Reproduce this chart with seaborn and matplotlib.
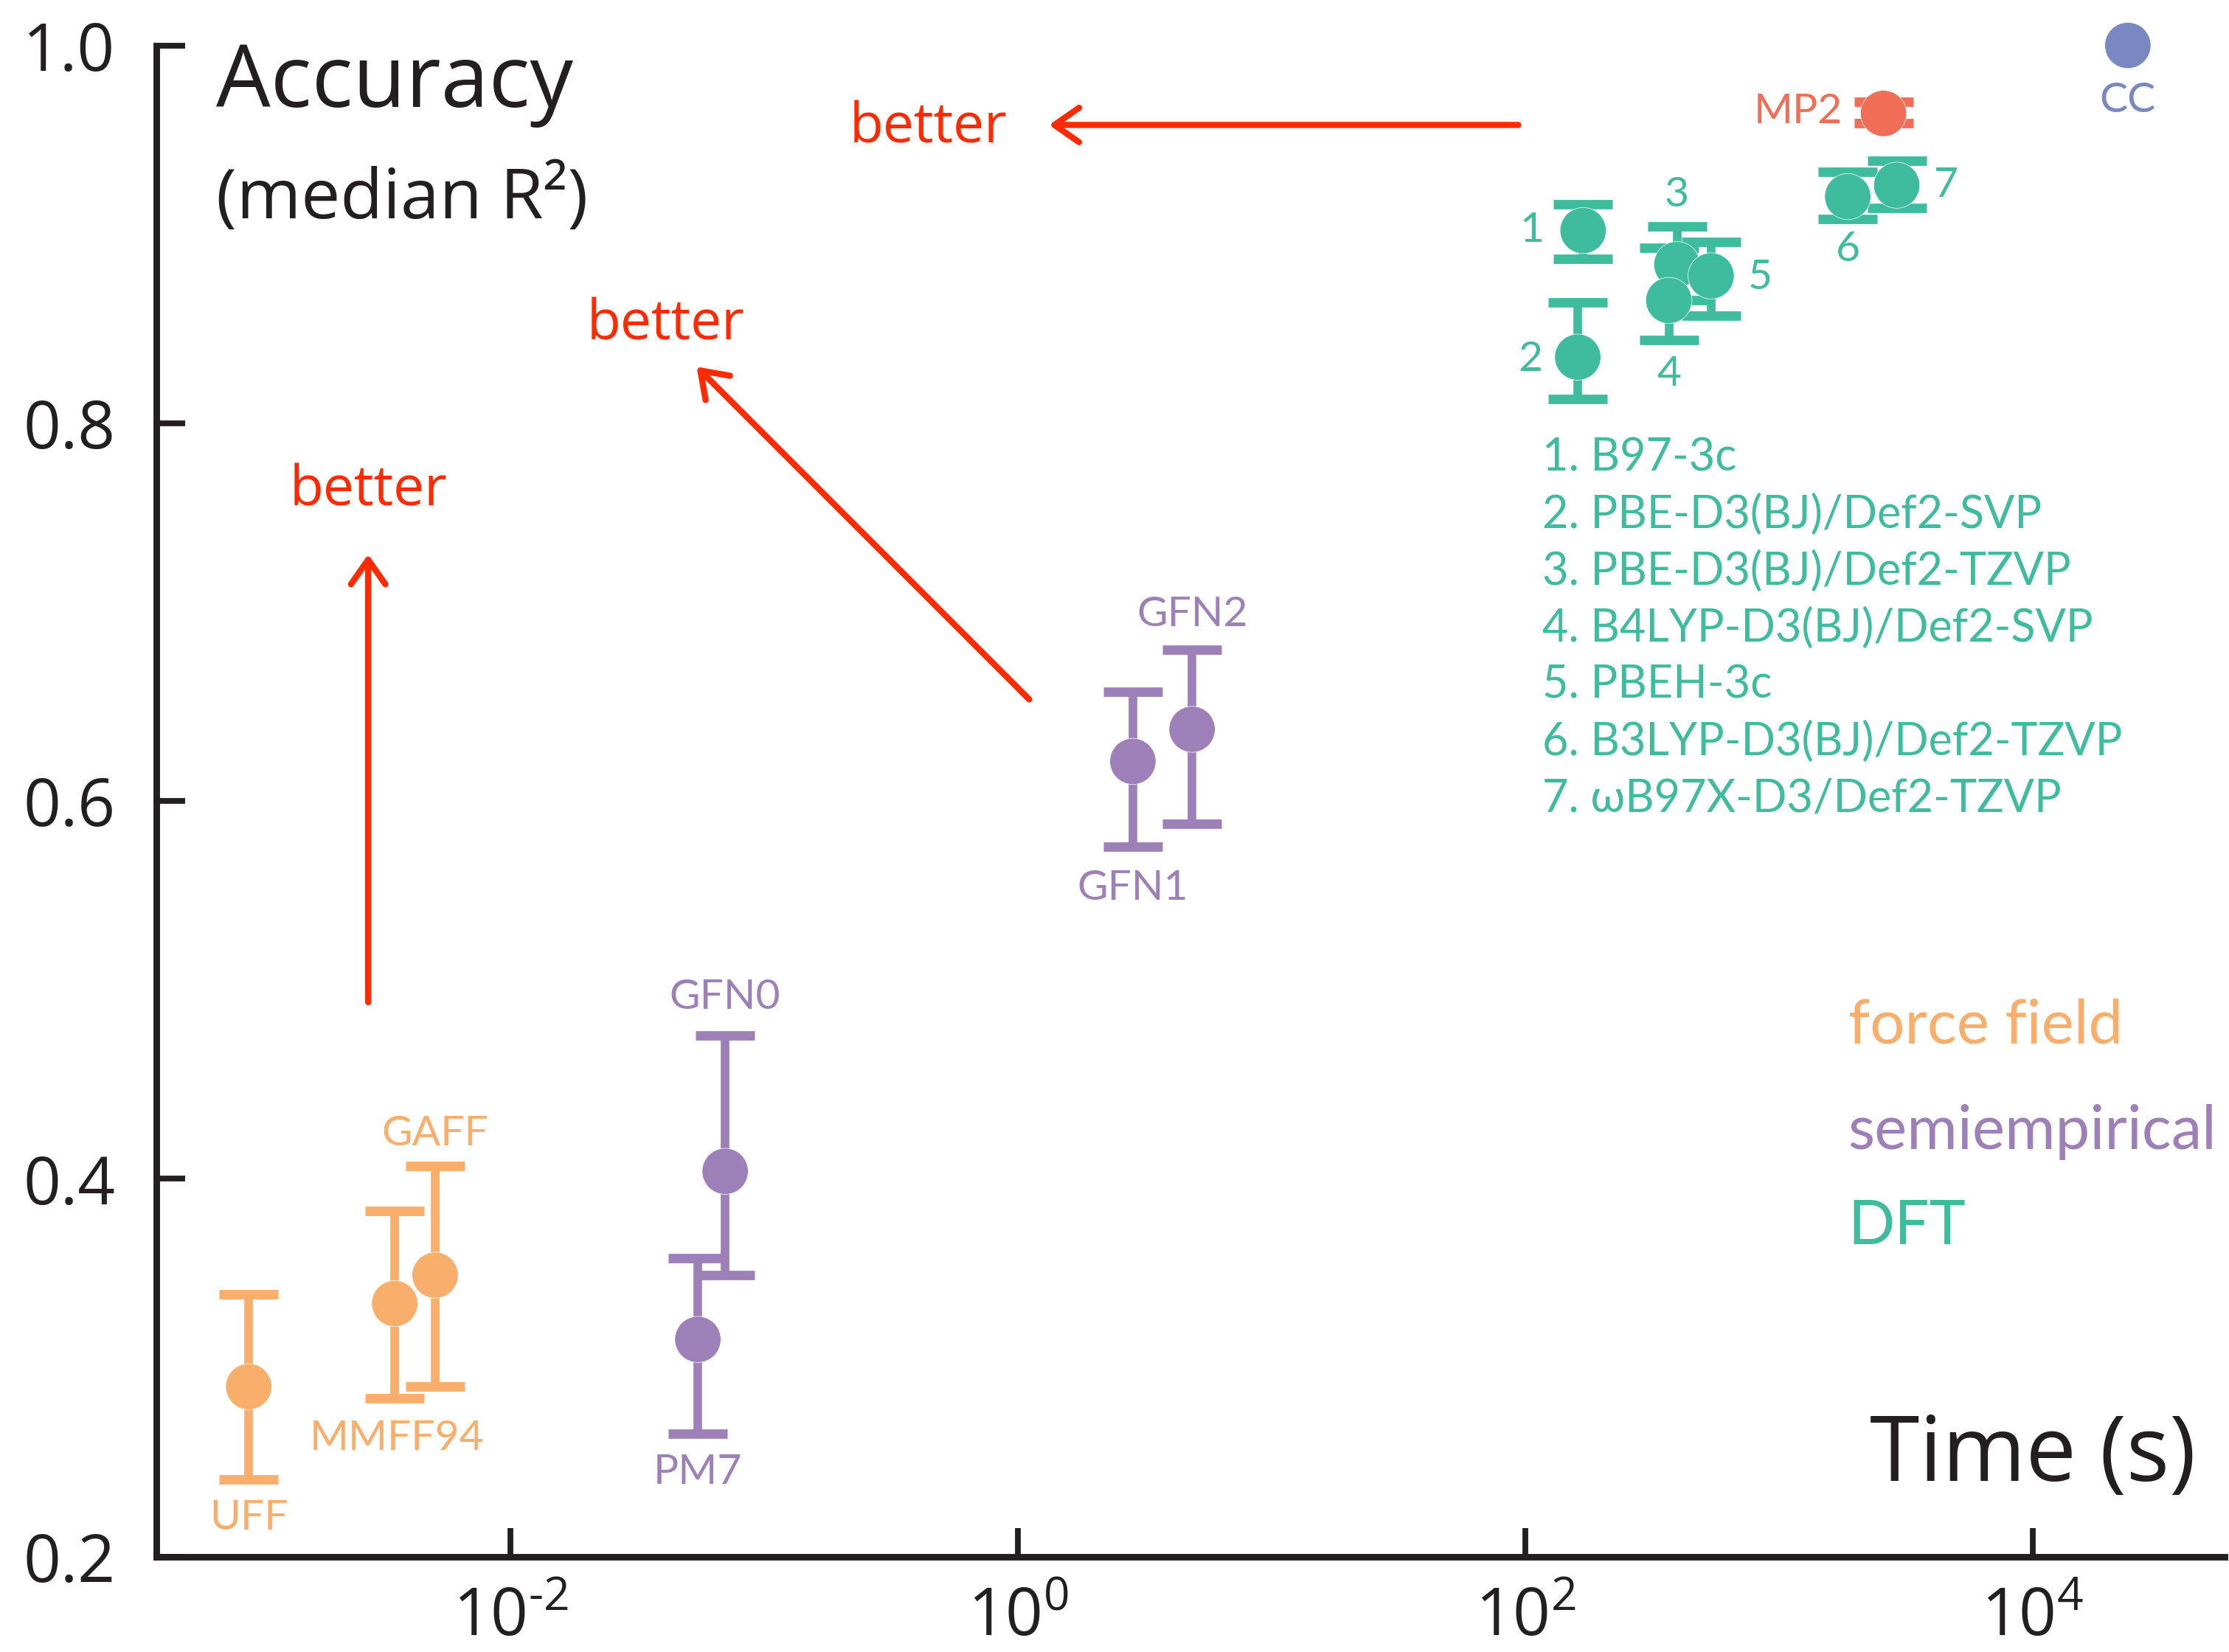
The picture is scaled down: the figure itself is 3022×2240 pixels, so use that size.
import numpy as np
import pandas as pd
import matplotlib
matplotlib.use("Agg")
import matplotlib.pyplot as plt
import seaborn as sns
from matplotlib.ticker import NullLocator, FixedLocator, FixedFormatter

# ---------------- data ----------------
methods = ["UFF", "MMFF94", "GAFF", "PM7", "GFN0", "GFN1", "GFN2",
           "1", "2", "3", "4", "5", "6", "7", "MP2", "CC"]
groups = ["force field"] * 3 + ["semiempirical"] * 4 + ["DFT"] * 7 + ["MP2", "CC"]
time_s = [9.3e-4, 3.5e-3, 5.05e-3, 0.0548, 0.0702, 2.84, 4.86,
          169, 161, 396, 368, 540, 1866, 2911, 2581, 23700]
accuracy = [0.290, 0.334, 0.349, 0.315, 0.404, 0.621, 0.638,
            0.902, 0.835, 0.884, 0.865, 0.878, 0.920, 0.926, 0.964, 1.000]
err_low = [0.241, 0.284, 0.290, 0.265, 0.349, 0.576, 0.588,
           0.887, 0.813, 0.865, 0.844, 0.857, 0.908, 0.914, 0.959, np.nan]
err_high = [0.339, 0.383, 0.407, 0.358, 0.476, 0.658, 0.680,
            0.916, 0.864, 0.904, 0.893, 0.896, 0.933, 0.939, 0.970, np.nan]

dft_names = ["1. B97-3c", "2. PBE-D3(BJ)/Def2-SVP", "3. PBE-D3(BJ)/Def2-TZVP",
             "4. B4LYP-D3(BJ)/Def2-SVP", "5. PBEH-3c",
             "6. B3LYP-D3(BJ)/Def2-TZVP", "7. ωB97X-D3/Def2-TZVP"]
category_names = ["force field", "semiempirical", "DFT"]

x_ticks = [1e-2, 1e0, 1e2, 1e4]
x_ticklabels = [r"$10^{\text{-}2}$", "$10^{0}$", "$10^{2}$", "$10^{4}$"]
y_ticks = [0.2, 0.4, 0.6, 0.8, 1.0]
y_ticklabels = ["0.2", "0.4", "0.6", "0.8", "1.0"]

palette = {"force field": "#F9AE6B", "semiempirical": "#9E80B8", "DFT": "#3FBC9D",
           "MP2": "#F06E55", "CC": "#7A88C2"}
arrow_red = "#FF2A00"

# label offsets (points) relative to each point and alignment
label_offsets = {
    "UFF": (0, -64, "center"), "MMFF94": (1, -66, "center"), "GAFF": (0, 69, "center"),
    "PM7": (0, -65, "center"), "GFN0": (0, 85, "center"), "GFN1": (0, -62, "center"),
    "GFN2": (0, 56, "center"),
    "1": (-25, 0, "center"), "2": (-23, -1, "center"), "3": (0, 34, "center"),
    "4": (0, -36, "center"), "5": (24, -1, "center"), "6": (0, -26, "center"),
    "7": (24, 0, "center"), "MP2": (-20, 1, "right"), "CC": (0, -27, "center"),
}

df = pd.DataFrame({"method": methods, "group": groups, "time": time_s,
                   "acc": accuracy, "lo": err_low, "hi": err_high})

# ---------------- style ----------------
sns.set_theme(style="ticks")
plt.rcParams["font.family"] = ["Open Sans", "DejaVu Sans"]
plt.rcParams["mathtext.fontset"] = "custom"
plt.rcParams["mathtext.rm"] = "Open Sans"
plt.rcParams["mathtext.it"] = "Open Sans"
plt.rcParams["mathtext.default"] = "regular"
plt.rcParams["axes.unicode_minus"] = False

fig = plt.figure(figsize=(15.11, 11.2), dpi=200)
ax = fig.add_axes([0.0702, 0.0577, 0.9278, 0.9148])

# error bars
for _, r in df.dropna(subset=["lo"]).iterrows():
    ax.errorbar(r["time"], r["acc"],
                yerr=[[r["acc"] - r["lo"]], [r["hi"] - r["acc"]]],
                fmt="none", ecolor=palette[r["group"]], elinewidth=4.2,
                capsize=14.5, capthick=4.6, zorder=2)

sns.scatterplot(data=df, x="time", y="acc", hue="group", palette=palette,
                s=22.5 ** 2, edgecolor="white", linewidth=0.25, legend=False,
                ax=ax, zorder=3, clip_on=False)

ax.set_xscale("log")
ax.set_xlim(10 ** -3.395, 10 ** 4.756)
ax.set_ylim(0.2, 1.0)
ax.xaxis.set_major_locator(FixedLocator(x_ticks))
ax.xaxis.set_major_formatter(FixedFormatter(x_ticklabels))
ax.xaxis.set_minor_locator(NullLocator())
ax.set_yticks(y_ticks)
ax.set_yticklabels(y_ticklabels)
ax.set_xlabel("")
ax.set_ylabel("")

for side in ["top", "right"]:
    ax.spines[side].set_visible(False)
for side in ["left", "bottom"]:
    ax.spines[side].set_linewidth(3.2)
    ax.spines[side].set_color("#231F20")
ax.tick_params(axis="both", direction="in", length=14, width=2.8, color="#231F20",
               labelsize=32, labelcolor="#231F20")
ax.tick_params(axis="y", pad=20)
ax.tick_params(axis="x", pad=14)

# point labels
for _, r in df.iterrows():
    dx, dy, ha = label_offsets[r["method"]]
    ax.annotate(r["method"], xy=(r["time"], r["acc"]), xytext=(dx, dy),
                textcoords="offset points", ha=ha, va="center",
                fontsize=20.5, color=palette[r["group"]], family=["Lato", "DejaVu Sans"],
                annotation_clip=False)

# titles inside axes
ax.text(0.029, 0.974, "Accuracy", transform=ax.transAxes, fontsize=42,
        ha="left", va="center", color="#231F20")
ax.text(0.029, 0.898, "(median R²)", transform=ax.transAxes, fontsize=34,
        ha="left", va="center", color="#231F20")
ax.text(0.986, 0.066, "Time (s)", transform=ax.transAxes, fontsize=44,
        ha="right", va="center", color="#231F20")

# DFT list
for i, name in enumerate(dft_names):
    ax.text(0.670, 0.727 - i * 0.0376, name, transform=ax.transAxes,
            fontsize=22, ha="left", va="center", color=palette["DFT"],
            family=["Lato", "DejaVu Sans"])

# category legend
for name, yy in zip(category_names, [0.351, 0.281, 0.218]):
    ax.text(0.818, yy, name, transform=ax.transAxes, fontsize=30,
            ha="left", va="center", color=palette[name], family=["Lato", "DejaVu Sans"])

# "better" arrows
arrow_kw = dict(arrowstyle="->,head_length=0.4,head_width=0.28", lw=3.0,
                color=arrow_red, mutation_scale=30, shrinkA=0, shrinkB=0)
arrows = [((0.00275, 0.4935), (0.00275, 0.7306)),
          ((1.109, 0.6538), (0.0542, 0.8299)),
          ((93.8, 0.9579), (1.328, 0.9579))]
for start, end in arrows:
    ax.annotate("", xy=end, xytext=start, arrowprops=arrow_kw)
better_pos = [(0.00275, 0.764), (0.0408, 0.852), (0.443, 0.956)]
for (bx, by) in better_pos:
    ax.text(bx, by, "better", color=arrow_red, fontsize=27, ha="center", va="center")

fig.savefig("out.png", dpi=200)
